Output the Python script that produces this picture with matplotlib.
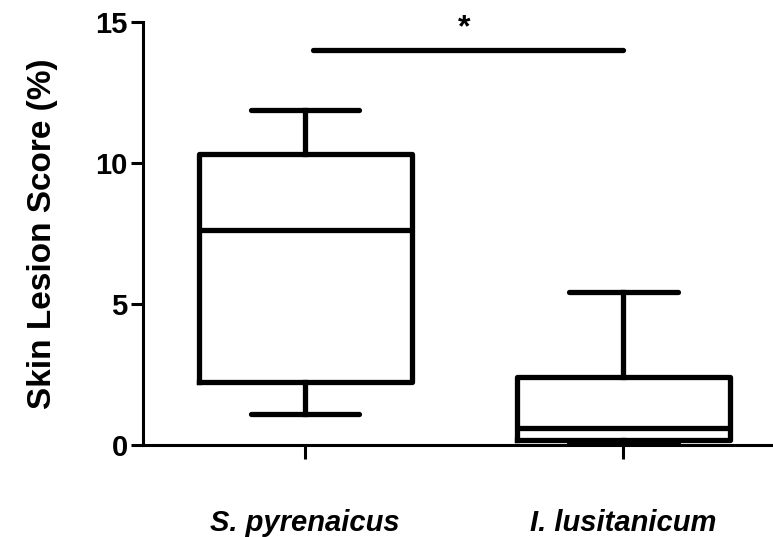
import matplotlib
matplotlib.use("Agg")
import matplotlib.pyplot as plt

plt.rcParams['font.family'] = ['Liberation Sans', 'DejaVu Sans']

groups = ["S. pyrenaicus", "I. lusitanicum"]
whislo = [1.12, 0.05]
q1 = [2.25, 0.18]
med = [7.63, 0.6]
q3 = [10.33, 2.41]
whishi = [11.88, 5.43]
sig_y = 14.0
sig_text = "*"

stats = []
for i in range(len(groups)):
    stats.append(dict(label=groups[i], whislo=whislo[i], q1=q1[i], med=med[i],
                      q3=q3[i], whishi=whishi[i], fliers=[]))

fig = plt.figure(figsize=(7.73, 5.37), dpi=100)
ax = fig.add_axes([0.185, 0.171, 0.815, 0.788])

lw = 3.8
ax.bxp(stats, positions=[1, 2], widths=0.67, showfliers=False,
       boxprops=dict(linewidth=lw, color='black'),
       medianprops=dict(linewidth=lw, color='black'),
       whiskerprops=dict(linewidth=lw, color='black'),
       capprops=dict(linewidth=lw, color='black', solid_capstyle='round'),
       capwidths=0.34)

# significance bar
ax.plot([1.025, 2.0], [sig_y, sig_y], color='black', lw=lw, solid_capstyle='round', clip_on=False)
ax.text(1.5, sig_y + 0.25, sig_text, ha='center', va='bottom', fontsize=23, fontweight='bold')

ax.set_xlim(0.49, 2.47)
ax.set_ylim(0, 15)
ax.set_yticks([0, 5, 10, 15])
ax.set_xticks([1, 2])
ax.set_xticklabels(groups, fontsize=21, fontweight='bold', fontstyle='italic')
ax.set_ylabel("Skin Lesion Score (%)", fontsize=24, fontweight='bold', labelpad=27)
for lab in ax.get_yticklabels():
    lab.set_fontsize(21)
    lab.set_fontweight('bold')

ax.spines['top'].set_visible(False)
ax.spines['right'].set_visible(False)
ax.spines['left'].set_linewidth(2.2)
ax.spines['bottom'].set_linewidth(2.2)
ax.tick_params(axis='y', length=9, width=2.2, pad=2)
ax.tick_params(axis='x', length=10, width=2.2, pad=36)

fig.savefig("out.png", dpi=100)
